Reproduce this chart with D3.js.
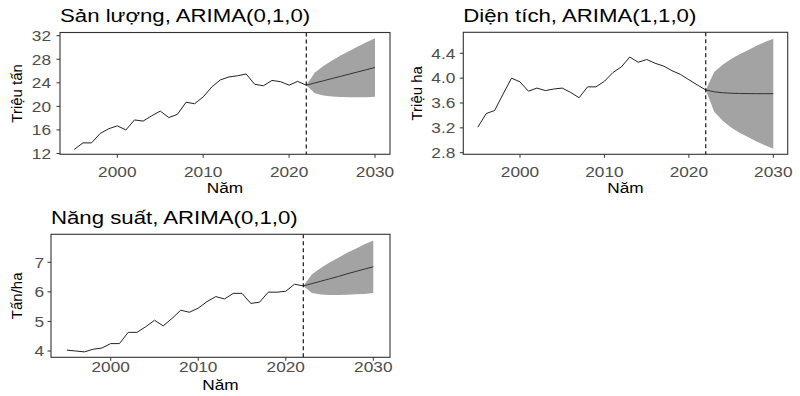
<!DOCTYPE html>
<html>
<head>
<meta charset="utf-8">
<script src="https://cdn.jsdelivr.net/npm/d3@7"></script>
<style>
  html, body { margin: 0; padding: 0; background: #fff; }
  svg { display: block; }
  text { font-family: "Liberation Sans", Arial, sans-serif; }
</style>
</head>
<body>
<svg id="chart" width="800" height="396"></svg>
<script>
// ---------- DATA ----------
const years = [1995,1996,1997,1998,1999,2000,2001,2002,2003,2004,2005,2006,2007,2008,2009,
               2010,2011,2012,2013,2014,2015,2016,2017,2018,2019,2020,2021,2022];
const fcYears = [2022,2023,2024,2025,2026,2027,2028,2029,2030];
const xTicks = [2000,2010,2020,2030];
const splitYear = 2022;

// Sản lượng (triệu tấn)
const sanLuong = [12.7,13.8,13.8,15.4,16.2,16.7,16.0,17.7,17.5,18.4,19.2,18.1,18.65,20.7,20.45,
                  21.6,23.3,24.5,25.0,25.2,25.5,23.75,23.5,24.4,24.2,23.6,24.25,23.6];
const slMean = [23.6,23.98,24.35,24.73,25.1,25.48,25.85,26.23,26.6];
const slLo   = [23.6,22.22,21.86,21.68,21.58,21.54,21.54,21.57,21.62];
const slHi   = [23.6,25.74,26.84,27.78,28.62,29.42,30.16,30.89,31.58];
const slTicks = [12,16,20,24,28,32];

// Diện tích (triệu ha)
const dienTich = [3.21,3.43,3.48,3.745,4.0,3.94,3.79,3.84,3.80,3.825,3.84,3.77,3.685,3.86,3.86,
                  3.95,4.09,4.18,4.34,4.255,4.30,4.24,4.195,4.12,4.06,3.975,3.89,3.81];
const dtMean = [3.81,3.78,3.765,3.757,3.753,3.751,3.75,3.75,3.75];
const dtLo   = [3.81,3.46,3.315,3.207,3.123,3.051,2.98,2.92,2.865];
const dtHi   = [3.81,4.10,4.215,4.307,4.383,4.451,4.52,4.58,4.635];
const dtTicks = [2.8,3.2,3.6,4.0,4.4];

// Năng suất (tấn/ha)
const nangSuat = [4.03,4.0,3.97,4.06,4.10,4.25,4.25,4.63,4.63,4.82,5.04,4.85,5.1,5.38,5.31,
                  5.45,5.67,5.84,5.76,5.95,5.95,5.61,5.65,5.99,5.99,6.02,6.26,6.2];
const nsMean = [6.2,6.28,6.36,6.44,6.52,6.61,6.69,6.77,6.85];
const nsLo   = [6.2,5.96,5.91,5.89,5.89,5.90,5.92,5.93,5.96];
const nsHi   = [6.2,6.60,6.81,6.99,7.15,7.32,7.46,7.61,7.74];
const nsTicks = [4,5,6,7];

const titles = ["Sản lượng, ARIMA(0,1,0)", "Diện tích, ARIMA(1,1,0)", "Năng suất, ARIMA(0,1,0)"];
const yLabels = ["Triệu tấn", "Triệu ha", "Tấn/ha"];
const xLabel = "Năm";

// ---------- LAYOUT ----------
const panels = [
  { title: titles[0], ylab: yLabels[0], hist: sanLuong, mean: slMean, lo: slLo, hi: slHi, yTicks: slTicks, fmt: d3.format("d"),
    box: {x0: 60, x1: 390, y0: 32.5, y1: 154.3}, xr: [117.3, 375], yd: [12, 32], yr: [153.5, 35.7],
    ylabX: 22, xTickBase: 22.4, xLabBase: 38.4, yTickGap: 9 },
  { title: titles[1], ylab: yLabels[1], hist: dienTich, mean: dtMean, lo: dtLo, hi: dtHi, yTicks: dtTicks, fmt: d3.format(".1f"),
    box: {x0: 463.3, x1: 787.7, y0: 32.3, y1: 154.3}, xr: [520, 773.3], yd: [2.8, 4.4], yr: [152.7, 53.3],
    ylabX: 422, xTickBase: 22.4, xLabBase: 39, yTickGap: 8 },
  { title: titles[2], ylab: yLabels[2], hist: nangSuat, mean: nsMean, lo: nsLo, hi: nsHi, yTicks: nsTicks, fmt: d3.format("d"),
    box: {x0: 51, x1: 390, y0: 234.3, y1: 357.3}, xr: [110.7, 373.3], yd: [4, 7], yr: [351, 262.3],
    ylabX: 22, xTickBase: 14.4, xLabBase: 32.2, yTickGap: 7 }
];

const svg = d3.select("#chart");
const SX = 1.15;   // horizontal text stretch seen in the reference
const tickCol = "#4d4d4d";
const frameCol = "#333333";

function stretchedText(g, x, y, str, size, anchor, fill, sx) {
  return g.append("text")
    .attr("transform", `translate(${x},${y}) scale(${sx},1)`)
    .attr("text-anchor", anchor)
    .attr("font-size", size)
    .attr("fill", fill)
    .text(str);
}

panels.forEach(p => {
  const g = svg.append("g");
  const x = d3.scaleLinear().domain([xTicks[0], xTicks[xTicks.length - 1]]).range(p.xr);
  const y = d3.scaleLinear().domain(p.yd).range(p.yr);
  const b = p.box;

  // forecast band
  const band = d3.area()
    .x((d, i) => x(fcYears[i]))
    .y0((d, i) => y(p.lo[i]))
    .y1((d, i) => y(p.hi[i]));
  g.append("path").datum(fcYears).attr("d", band).attr("fill", "#a3a3a3");

  // historical line
  const line = d3.line().x((d, i) => x(years[i])).y(d => y(d));
  g.append("path").datum(p.hist).attr("d", line)
    .attr("fill", "none").attr("stroke", "#222").attr("stroke-width", 1);

  // forecast mean
  const fline = d3.line().x((d, i) => x(fcYears[i])).y(d => y(d));
  g.append("path").datum(p.mean).attr("d", fline)
    .attr("fill", "none").attr("stroke", "#333").attr("stroke-width", 1);

  // dashed split line
  g.append("line")
    .attr("x1", x(splitYear)).attr("x2", x(splitYear))
    .attr("y1", b.y0).attr("y2", b.y1)
    .attr("stroke", "#000").attr("stroke-width", 1.1)
    .attr("stroke-dasharray", "4,3");

  // frame
  g.append("rect")
    .attr("x", b.x0).attr("y", b.y0)
    .attr("width", b.x1 - b.x0).attr("height", b.y1 - b.y0)
    .attr("fill", "none").attr("stroke", frameCol).attr("stroke-width", 1.1);

  // x ticks
  xTicks.forEach(t => {
    g.append("line").attr("x1", x(t)).attr("x2", x(t))
      .attr("y1", b.y1).attr("y2", b.y1 + 3.5)
      .attr("stroke", frameCol).attr("stroke-width", 1);
    stretchedText(g, x(t), b.y1 + p.xTickBase, String(t), 15, "middle", tickCol, SX);
  });

  // y ticks
  p.yTicks.forEach(t => {
    g.append("line").attr("x1", b.x0 - 3.5).attr("x2", b.x0)
      .attr("y1", y(t)).attr("y2", y(t))
      .attr("stroke", frameCol).attr("stroke-width", 1);
    stretchedText(g, b.x0 - p.yTickGap, y(t) + 5.3, p.fmt(t), 15, "end", tickCol, SX);
  });

  // title
  stretchedText(g, b.x0, b.y0 - 10.3, p.title, 18.5, "start", "#000", 1.2);

  // x axis label
  stretchedText(g, (b.x0 + b.x1) / 2, b.y1 + p.xLabBase, xLabel, 15, "middle", "#000", SX);

  // y axis label
  g.append("text")
    .attr("transform", `translate(${p.ylabX},${(b.y0 + b.y1) / 2}) rotate(-90)`)
    .attr("text-anchor", "middle")
    .attr("font-size", 15)
    .attr("fill", "#000")
    .text(p.ylab);
});
</script>
</body>
</html>
